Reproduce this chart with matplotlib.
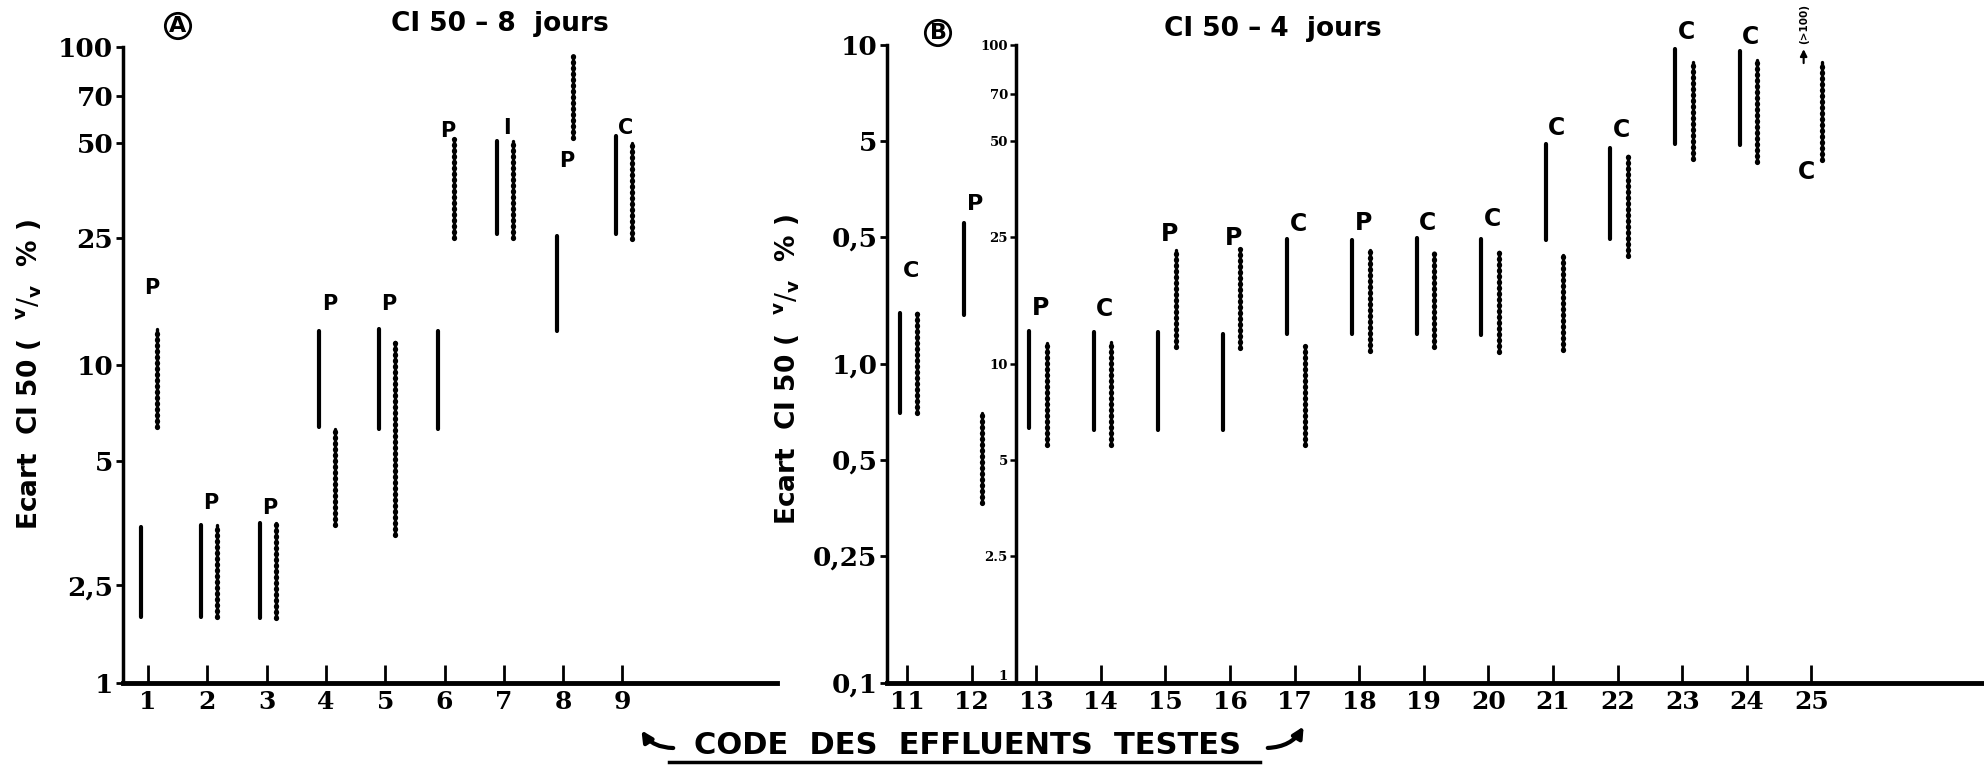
import numpy as np
import matplotlib
matplotlib.use("Agg")
import matplotlib.pyplot as plt
from matplotlib.ticker import FixedLocator, FixedFormatter, NullLocator

# ---- panel A : CI50 - 8 jours (scale 1-100) ----
codes_a = np.arange(1, 10)
solid_lo_a = [1.61, 1.61, 1.60, 6.4, 6.3, 6.3, 25.9, 12.8, 25.9]
solid_hi_a = [3.1, 3.14, 3.18, 12.8, 13.0, 12.8, 50.7, 25.5, 52.6]
dot_lo_a = [6.4, 1.61, 1.60, 3.13, 2.92, 25.1, 25.0, 51.8, 24.9]
dot_hi_a = [13.0, 3.14, 3.18, 6.3, 11.8, 51.4, 50.7, 93.7, 50.0]
lab_a = ["P", "P", "P", "P", "P", "P", "I", "P", "C"]
lab_y_a = [17.5, 3.67, 3.55, 15.6, 15.6, 54.5, 55.8, 43.9, 55.8]
yticks_a = [1, 2.03, 5, 10, 25, 50, 70, 100]
ylabels_a = ["1", "2,5", "5", "10", "25", "50", "70", "100"]

# ---- panel B, first scale (0.1-10) : codes 11-12 ----
codes_b1 = np.array([11, 12])
solid_lo_b1 = [0.70, 1.42]
solid_hi_b1 = [1.44, 2.77]
dot_lo_b1 = [0.70, 0.366]
dot_hi_b1 = [1.44, 0.70]
lab_b1 = ["C", "P"]
lab_y_b1 = [1.96, 3.18]
yticks_b1 = [0.1, 0.25, 0.5, 1, 2.5, 5, 10]
ylabels_b1 = ["0,1", "0,25", "0,5", "1,0", "0,5", "5", "10"]

# ---- panel B, second scale (1-100) : codes 13-25 ----
codes_b2 = np.arange(13, 26)
solid_lo_b2 = [6.28, 6.2, 6.2, 6.2, 12.4, 12.4, 12.4, 12.3, 24.5, 24.7, 49, 48.6, np.nan]
solid_hi_b2 = [12.7, 12.6, 12.6, 12.4, 24.7, 24.4, 24.9, 24.7, 49, 47.6, 97, 95.7, np.nan]
dot_lo_b2 = [5.56, 5.56, 11.3, 11.2, 5.56, 11.0, 11.3, 10.9, 11.1, 21.8, 44, 43.1, 43.6]
dot_hi_b2 = [11.6, 11.7, 22.7, 23.0, 11.4, 22.7, 22.3, 22.5, 22.0, 45, 88.5, 89.7, 88.2]
lab_b2 = ["P", "C", "P", "P", "C", "P", "C", "C", "C", "C", "C", "C", "C"]
lab_y_b2 = [15.0, 14.9, 25.6, 24.9, 27.5, 27.7, 27.7, 28.5, 55, 54, 110, 106, 40]
yticks_b2 = [1, 2.5, 5, 10, 25, 50, 70, 100]
ylabels_b2 = ["1", "2.5", "5", "10", "25", "50", "70", "100"]

SOLID_DX = -0.11
DOT_DX = 0.16
TICKFONT = dict(family="DejaVu Serif", weight="bold")

W, H = 1984, 769
fig = plt.figure(figsize=(W / 100, H / 100), dpi=100)


def fx(px):
    return px / W


def fy(py):
    return 1 - py / H


def draw_pairs(ax, codes, s_lo, s_hi, d_lo, d_hi, labs, lab_y, fsize):
    for c, a, b, d1, d2 in zip(codes, s_lo, s_hi, d_lo, d_hi):
        if not np.isnan(a):
            ax.plot([c + SOLID_DX] * 2, [a, b], color="black", lw=3.0,
                    solid_capstyle="round", clip_on=False)
        # beaded line: thin core + round dots
        ax.plot([c + DOT_DX] * 2, [d1, d2], color="black", lw=2.4,
                solid_capstyle="round", clip_on=False)
        ax.plot([c + DOT_DX] * 2, [d1, d2], color="black", lw=3.8,
                dashes=(0.1, 1.0), dash_capstyle="round", clip_on=False)
    for c, t, yv in zip(codes, labs, lab_y):
        dx = -0.08 if c == 25 else 0.06
        ax.text(c + dx, yv, t, ha="center", va="center", fontsize=fsize,
                fontweight="bold", family="DejaVu Sans", clip_on=False)


def style_axis(ax, yticks, ylabels, ysize):
    ax.set_yscale("log")
    for s in ("top", "right"):
        ax.spines[s].set_visible(False)
    ax.spines["left"].set_linewidth(2.5)
    ax.spines["bottom"].set_linewidth(3.5)
    ax.yaxis.set_major_locator(FixedLocator(yticks))
    ax.yaxis.set_major_formatter(FixedFormatter(ylabels))
    ax.yaxis.set_minor_locator(NullLocator())
    ax.tick_params(axis="y", direction="out", length=5, width=2, pad=2)
    ax.tick_params(axis="x", direction="in", length=13, width=2, pad=5)
    for lbl in ax.get_yticklabels():
        lbl.set_fontproperties(dict(TICKFONT, size=ysize))
    ax.patch.set_alpha(0)


# ---------------- panel A ----------------
axA = fig.add_axes([fx(123), 1 - 683 / H, fx(777 - 123), (683 - 47) / H])
style_axis(axA, yticks_a, ylabels_a, 19)
axA.set_ylim(1, 100)
axA.set_xlim(1 - 25 / 59.3, 1 + (777 - 148) / 59.3)
axA.set_xticks(codes_a)
axA.set_xticklabels([str(c) for c in codes_a], fontsize=18, **TICKFONT)
draw_pairs(axA, codes_a, solid_lo_a, solid_hi_a, dot_lo_a, dot_hi_a,
           lab_a, lab_y_a, 15)

# ---------------- panel B ----------------
sp = 64.6
axB = fig.add_axes([fx(887), 1 - 683 / H, fx(W - 887), (683 - 45) / H])
style_axis(axB, yticks_b1, ylabels_b1, 19)
axB.set_ylim(0.1, 10)
axB.set_xlim(11 - 20 / sp, 11 + (W - 907) / sp)
xt_b = np.concatenate([codes_b1, codes_b2])
axB.set_xticks(xt_b)
axB.set_xticklabels([str(c) for c in xt_b], fontsize=18, **TICKFONT)
draw_pairs(axB, codes_b1, solid_lo_b1, solid_hi_b1, dot_lo_b1, dot_hi_b1,
           lab_b1, lab_y_b1, 16)

axB2 = axB.twinx()
axB2.set_yscale("log")
axB2.set_ylim(1, 100)
for s in ("top", "right", "bottom"):
    axB2.spines[s].set_visible(False)
axB2.spines["left"].set_visible(True)
axB2.spines["left"].set_linewidth(2.5)
axB2.spines["left"].set_position(("data", 12.69))
axB2.yaxis.set_ticks_position("left")
axB2.yaxis.set_major_locator(FixedLocator(yticks_b2))
axB2.yaxis.set_major_formatter(FixedFormatter(ylabels_b2))
axB2.yaxis.set_minor_locator(NullLocator())
axB2.tick_params(axis="y", direction="out", length=4, width=1.8, pad=2)
for lbl in axB2.get_yticklabels():
    lbl.set_fontproperties(dict(TICKFONT, size=9.5))
    if lbl.get_text() == "1":
        lbl.set_va("bottom")
draw_pairs(axB2, codes_b2, solid_lo_b2, solid_hi_b2, dot_lo_b2, dot_hi_b2,
           lab_b2, lab_y_b2, 17)

# effluent 25 : value beyond the scale
axB2.annotate("", xy=(24.88, 99), xytext=(24.88, 86),
              arrowprops=dict(arrowstyle="-|>", lw=1.5, color="black",
                              mutation_scale=10), annotation_clip=False)
axB2.text(24.88, 101, "(>100)", rotation=90, ha="center", va="bottom",
          fontsize=7.5, fontweight="bold", clip_on=False)

# ---------------- texts ----------------
fig.text(fx(500), fy(24), "CI 50 – 8  jours", ha="center", va="center",
         fontsize=19, fontweight="bold")
fig.text(fx(1273), fy(29), "CI 50 – 4  jours", ha="center", va="center",
         fontsize=19, fontweight="bold")
circ = dict(boxstyle="circle,pad=0.12", fc="white", ec="black", lw=2)
fig.text(fx(178), fy(26), "A", ha="center", va="center", fontsize=16,
         fontweight="bold", bbox=circ)
fig.text(fx(938), fy(33), "B", ha="center", va="center", fontsize=16,
         fontweight="bold", bbox=circ)

ylab = r"Ecart  CI 50 (  $^{\mathbf{v}}/_{\mathbf{v}}$  % )"
fig.text(fx(29), fy(375), ylab, rotation=90, ha="center", va="center",
         fontsize=19, fontweight="bold")
fig.text(fx(787), fy(370), ylab, rotation=90, ha="center", va="center",
         fontsize=19, fontweight="bold")

fig.text(fx(967), fy(745), "CODE  DES  EFFLUENTS  TESTES", ha="center",
         va="center", fontsize=22, fontweight="bold")
fig.add_artist(plt.Line2D([fx(669), fx(1260)], [fy(762), fy(762)],
                          color="black", lw=2.5))
fig.patches.append(matplotlib.patches.FancyArrowPatch(
    (fx(676), fy(748)), (fx(640), fy(728)), transform=fig.transFigure,
    connectionstyle="arc3,rad=-0.3", arrowstyle="-|>", mutation_scale=16,
    lw=3, color="black"))
fig.patches.append(matplotlib.patches.FancyArrowPatch(
    (fx(1265), fy(748)), (fx(1305), fy(724)), transform=fig.transFigure,
    connectionstyle="arc3,rad=0.3", arrowstyle="-|>", mutation_scale=16,
    lw=3, color="black"))

fig.savefig("out.png", dpi=100)
